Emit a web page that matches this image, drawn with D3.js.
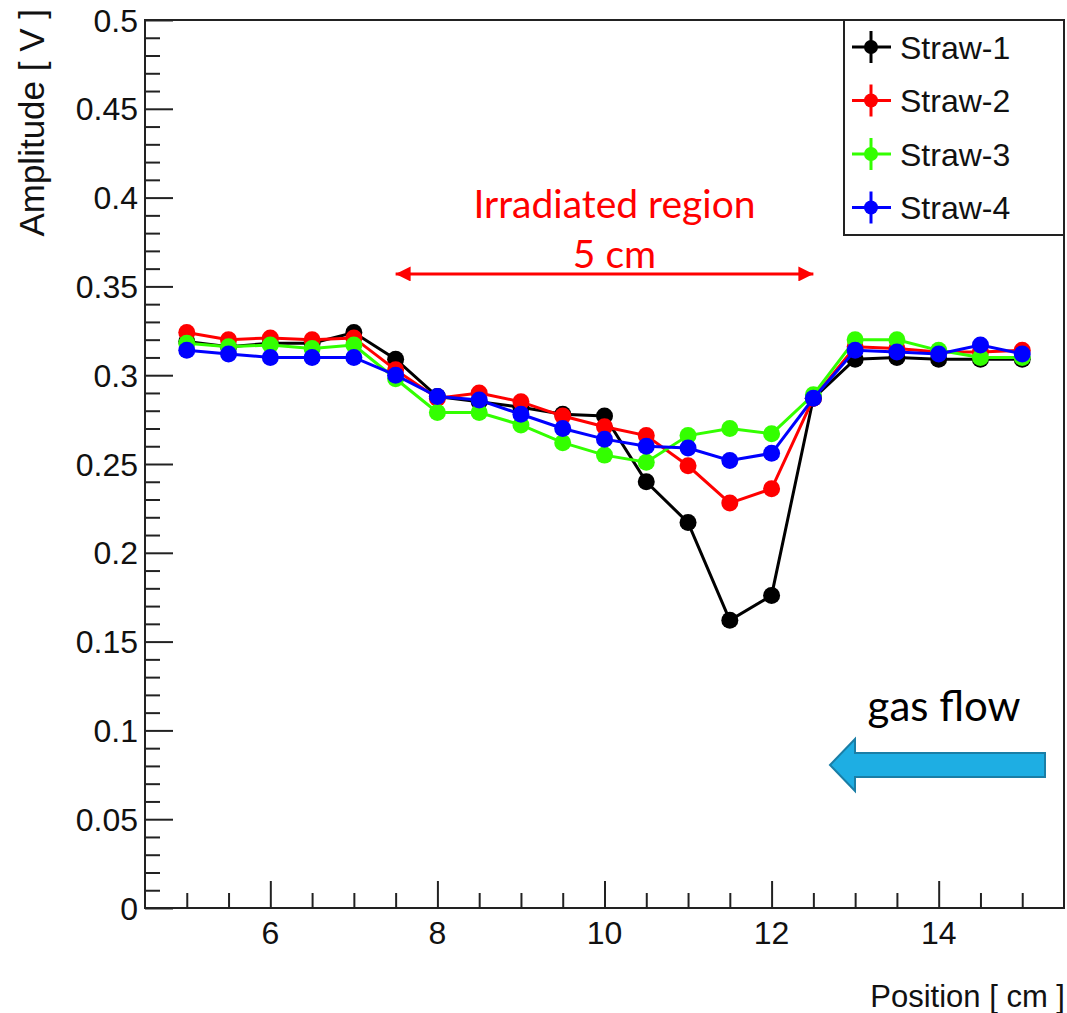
<!DOCTYPE html>
<html>
<head>
<meta charset="utf-8">
<script src="https://cdn.jsdelivr.net/npm/d3@7"></script>
<style>
  body { margin: 0; background: #fff; }
  svg { display: block; }
  text { font-family: "Liberation Sans", Arial, sans-serif; }
</style>
</head>
<body>
<div id="chart"></div>
<script>
/*
 * Data
 */
const positions = [5, 5.5, 6, 6.5, 7, 7.5, 8, 8.5, 9, 9.5, 10, 10.5, 11, 11.5, 12, 12.5, 13, 13.5, 14, 14.5, 15]

const straw1 = [0.319, 0.316, 0.318, 0.318, 0.324, 0.309, 0.288, 0.285, 0.282, 0.278, 0.277, 0.240, 0.217, 0.162, 0.176, 0.287, 0.309, 0.310, 0.309, 0.309, 0.309]
const straw2 = [0.324, 0.320, 0.321, 0.320, 0.321, 0.303, 0.287, 0.290, 0.285, 0.277, 0.271, 0.266, 0.249, 0.228, 0.236, 0.287, 0.316, 0.315, 0.313, 0.313, 0.314]
const straw3 = [0.318, 0.316, 0.317, 0.315, 0.317, 0.298, 0.279, 0.279, 0.272, 0.262, 0.255, 0.251, 0.266, 0.270, 0.267, 0.289, 0.320, 0.320, 0.314, 0.310, 0.310]
const straw4 = [0.314, 0.312, 0.310, 0.310, 0.310, 0.300, 0.288, 0.286, 0.278, 0.270, 0.264, 0.260, 0.259, 0.252, 0.256, 0.287, 0.314, 0.313, 0.312, 0.317, 0.312]

const seriesNames = ['Straw-1', 'Straw-2', 'Straw-3', 'Straw-4']
const seriesValues = [straw1, straw2, straw3, straw4]
const seriesColors = ['#000000', '#ff0000', '#33ff00', '#0000ff']

const yTicks = [0, 0.05, 0.1, 0.15, 0.2, 0.25, 0.3, 0.35, 0.4, 0.45, 0.5]
const xTicks = [6, 8, 10, 12, 14]

// irradiated region from 7.5 to 12.5 cm
const irradiated = [7.5, 12.5]

/*
 * Initialize SVG
 */
const w = 1067
const h = 1013

const svg = d3.select('#chart')
  .append('svg')
  .attr('width', w)
  .attr('height', h)

const x = d3.scaleLinear().domain([4.5, 15.5]).range([145, 1064])
const y = d3.scaleLinear().domain([0, 0.5]).range([908, 20])

// frame
svg.append('rect')
  .attr('x', x(4.5))
  .attr('y', y(0.5))
  .attr('width', x(15.5) - x(4.5))
  .attr('height', y(0) - y(0.5))
  .attr('fill', 'none')
  .attr('stroke', '#222')
  .attr('stroke-width', 2)

// y axis, ticks pointing into the plot
const yAxis = svg.append('g')
  .attr('transform', `translate(${x(4.5)},0)`)
  .call(d3.axisRight(y).tickValues(d3.range(0, 0.5001, 0.01)).tickSize(15).tickFormat(''))
yAxis.select('.domain').remove()
yAxis.selectAll('line').attr('stroke', '#222').attr('stroke-width', 2)
yAxis.selectAll('.tick line')
  .filter(d => yTicks.some(t => Math.abs(t - d) < 1e-6))
  .attr('x2', 28)

svg.append('g')
  .selectAll('text')
  .data(yTicks)
  .enter()
  .append('text')
  .attr('x', 138)
  .attr('y', d => y(d))
  .attr('dy', '0.36em')
  .attr('text-anchor', 'end')
  .style('font-size', '32px')
  .style('fill', '#111')
  .text(d => d3.format('~g')(d))

// x axis, ticks pointing up
const xAxis = svg.append('g')
  .attr('transform', `translate(0,${y(0)})`)
  .call(d3.axisTop(x).tickValues(d3.range(5, 15.001, 0.5)).tickSize(15).tickFormat(''))
xAxis.select('.domain').remove()
xAxis.selectAll('line').attr('stroke', '#222').attr('stroke-width', 2)
xAxis.selectAll('.tick line')
  .filter(d => xTicks.includes(d))
  .attr('y2', -27)

svg.append('g')
  .selectAll('text')
  .data(xTicks)
  .enter()
  .append('text')
  .attr('x', d => x(d))
  .attr('y', 944)
  .attr('text-anchor', 'middle')
  .style('font-size', '32px')
  .style('fill', '#111')
  .text(d => d)

// axis titles
svg.append('text')
  .attr('x', 1065)
  .attr('y', 1007)
  .attr('text-anchor', 'end')
  .style('font-size', '31px')
  .style('fill', '#111')
  .text('Position [ cm ]')

svg.append('text')
  .attr('transform', 'translate(44,9) rotate(-90)')
  .attr('text-anchor', 'end')
  .style('font-size', '35px')
  .style('fill', '#111')
  .text('Amplitude [ V ]')

// series
const line = d3.line()
  .x(d => x(d.x))
  .y(d => y(d.y))

const series = seriesNames.map((name, i) => ({
  name: name,
  color: seriesColors[i],
  points: positions.map((p, j) => ({ x: p, y: seriesValues[i][j] }))
}))

const groups = svg.append('g')
  .selectAll('g')
  .data(series)
  .enter()
  .append('g')

groups.append('path')
  .attr('d', d => line(d.points))
  .attr('fill', 'none')
  .attr('stroke', d => d.color)
  .attr('stroke-width', 3)

groups.selectAll('circle')
  .data(d => d.points.map(p => ({ ...p, color: d.color })))
  .enter()
  .append('circle')
  .attr('cx', d => x(d.x))
  .attr('cy', d => y(d.y))
  .attr('r', 8.5)
  .attr('fill', d => d.color)

// legend
const legend = svg.append('g')
legend.append('rect')
  .attr('x', 844)
  .attr('y', 20)
  .attr('width', 220)
  .attr('height', 215)
  .attr('fill', '#fff')
  .attr('stroke', '#222')
  .attr('stroke-width', 2)

const entries = legend.selectAll('g.entry')
  .data(series)
  .enter()
  .append('g')
  .attr('class', 'entry')
  .attr('transform', (d, i) => `translate(871,${47 + i * 53.5})`)

entries.append('line')
  .attr('x1', -19).attr('x2', 20)
  .attr('stroke', d => d.color).attr('stroke-width', 3)
entries.append('line')
  .attr('y1', -16).attr('y2', 16)
  .attr('stroke', d => d.color).attr('stroke-width', 3)
entries.append('circle')
  .attr('r', 7)
  .attr('fill', d => d.color)
entries.append('text')
  .attr('x', 29)
  .attr('dy', '0.36em')
  .style('font-size', '32px')
  .style('fill', '#111')
  .text(d => d.name)

// irradiated region annotation
const red = '#ff0000'
const arrowY = y(0.357)
const defs = svg.append('defs')
defs.append('marker')
  .attr('id', 'redhead')
  .attr('viewBox', '0 0 10 10')
  .attr('refX', 10).attr('refY', 5)
  .attr('markerWidth', 5.2).attr('markerHeight', 5)
  .attr('markerUnits', 'strokeWidth')
  .attr('orient', 'auto-start-reverse')
  .append('path')
  .attr('d', 'M0,0L10,5L0,10Z')
  .attr('fill', red)

svg.append('line')
  .attr('x1', x(irradiated[0])).attr('x2', x(irradiated[1]))
  .attr('y1', arrowY).attr('y2', arrowY)
  .attr('stroke', red).attr('stroke-width', 3)
  .attr('marker-start', 'url(#redhead)')
  .attr('marker-end', 'url(#redhead)')

const midX = x((irradiated[0] + irradiated[1]) / 2) + 10
svg.append('text')
  .attr('x', midX).attr('y', 218)
  .attr('text-anchor', 'middle')
  .style('font-family', 'Lato, "Open Sans", sans-serif')
  .style('font-size', '39px')
  .style('fill', red)
  .text('Irradiated region')
svg.append('text')
  .attr('x', midX).attr('y', 268)
  .attr('text-anchor', 'middle')
  .style('font-family', 'Lato, "Open Sans", sans-serif')
  .style('font-size', '39px')
  .style('fill', red)
  .text('5 cm')

// gas flow arrow
svg.append('text')
  .attr('x', 944).attr('y', 721)
  .attr('text-anchor', 'middle')
  .style('font-family', 'Lato, "Open Sans", sans-serif')
  .style('font-size', '42px')
  .style('fill', '#000')
  .text('gas flow')

const ax = 830, ay = 765
svg.append('path')
  .attr('d', `M${ax},${ay} L${ax + 25},${ay - 26} L${ax + 25},${ay - 12} L${ax + 215},${ay - 12}
    L${ax + 215},${ay + 12} L${ax + 25},${ay + 12} L${ax + 25},${ay + 26} Z`)
  .attr('fill', '#1eaee3')
  .attr('stroke', '#1a7ea6')
  .attr('stroke-width', 2)
</script>
</body>
</html>
